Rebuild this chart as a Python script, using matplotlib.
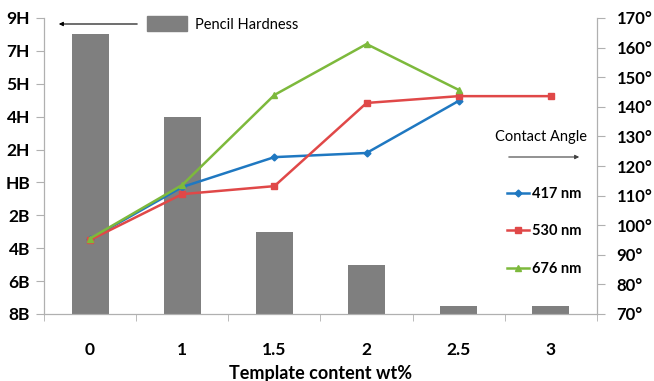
import matplotlib.pyplot as plt
from matplotlib.lines import Line2D
from matplotlib.patches import Patch

# data
categories = ["0", "1", "1.5", "2", "2.5", "3"]
hardness_labels = ["8B", "6B", "4B", "2B", "HB", "2H", "4H", "5H", "7H", "9H"]
hardness = [8.5, 6.0, 2.5, 1.5, 0.25, 0.25]

angle_417 = [95.3, 112.9, 123.0, 124.4, 142.0]
angle_530 = [95.0, 110.5, 113.2, 141.3, 143.6, 143.6]
angle_676 = [95.5, 113.6, 144.0, 161.2, 145.7]
angle_ticks = [70, 80, 90, 100, 110, 120, 130, 140, 150, 160, 170]

plt.rcParams['font.family'] = ['Lato', 'DejaVu Sans']
axis_grey = "#b0b0b0"

fig = plt.figure(figsize=(6.54, 3.81), dpi=100)
ax = fig.add_axes([44/654, 1-314/381, 553/654, 296/381])
ax2 = ax.twinx()

xs = list(range(len(categories)))
ax.bar(xs, hardness, width=0.4, color="#7f7f7f", zorder=2)
ax.set_ylim(0, 9)
ax.set_xlim(-0.5, 5.5)
ax.set_yticks(range(len(hardness_labels)))
ax.set_yticklabels(hardness_labels, fontsize=12.5, fontweight="bold")
ax.set_xticks(xs)
ax.set_xticklabels(categories, fontsize=12.5, fontweight="bold")
ax.set_xticks([x - 0.5 for x in range(len(categories) + 1)], minor=True)
ax.tick_params(axis="x", which="major", length=0, pad=20)
ax.tick_params(axis="x", which="minor", length=5, color=axis_grey)
ax.tick_params(axis="y", length=6, color=axis_grey, pad=4)
ax.set_xlabel("Template content wt%", fontsize=13, fontweight="bold", labelpad=5)

ax2.plot(xs[:5], angle_417, color="#1f78c1", marker="D", markersize=3.5, lw=1.8, zorder=3)
ax2.plot(xs, angle_530, color="#e04848", marker="s", markersize=5, lw=1.8, zorder=3)
ax2.plot(xs[:5], angle_676, color="#7db93c", marker="^", markersize=5, lw=1.8, zorder=3)
ax2.set_ylim(70, 170)
ax2.set_yticks(angle_ticks)
ax2.set_yticklabels([f"{t}\u00b0" for t in angle_ticks], fontsize=12, fontweight="bold")
ax2.tick_params(axis="y", length=6, color=axis_grey, pad=8)

for a in (ax, ax2):
    a.spines["top"].set_visible(False)
    for s in ("left", "right", "bottom"):
        a.spines[s].set_color(axis_grey)

# legends
fig.legend(handles=[Patch(color="#7f7f7f")], labels=["Pencil Hardness"],
           loc="center left", bbox_to_anchor=(134/654, 1-24/381), frameon=False,
           fontsize=10.5, handlelength=2.7, handleheight=1.2, handletextpad=0.6)
ax.annotate("", xy=(56/654, 1-24/381), xytext=(140/654, 1-24/381),
            xycoords="figure fraction", textcoords="figure fraction",
            arrowprops=dict(arrowstyle="-|>", color="black", lw=0.8, mutation_scale=6))

fig.text(541/654, 1-137/381, "Contact Angle", fontsize=10.5, ha="center", va="center")
ax.annotate("", xy=(582/654, 1-157/381), xytext=(506/654, 1-157/381),
            xycoords="figure fraction", textcoords="figure fraction",
            arrowprops=dict(arrowstyle="-|>", color="#404040", lw=0.8, mutation_scale=6))

handles = [Line2D([], [], color="#1f78c1", marker="D", markersize=3.5, lw=1.8),
           Line2D([], [], color="#e04848", marker="s", markersize=5, lw=1.8),
           Line2D([], [], color="#7db93c", marker="^", markersize=5, lw=1.8)]
fig.legend(handles=handles, labels=["417 nm", "530 nm", "676 nm"],
           loc="upper left", bbox_to_anchor=(494/654, 1-174/381), frameon=False,
           prop={"size": 10.5, "weight": "bold"}, handlelength=1.5, handletextpad=0.2,
           labelspacing=1.6)

fig.savefig("out.png", dpi=100)
